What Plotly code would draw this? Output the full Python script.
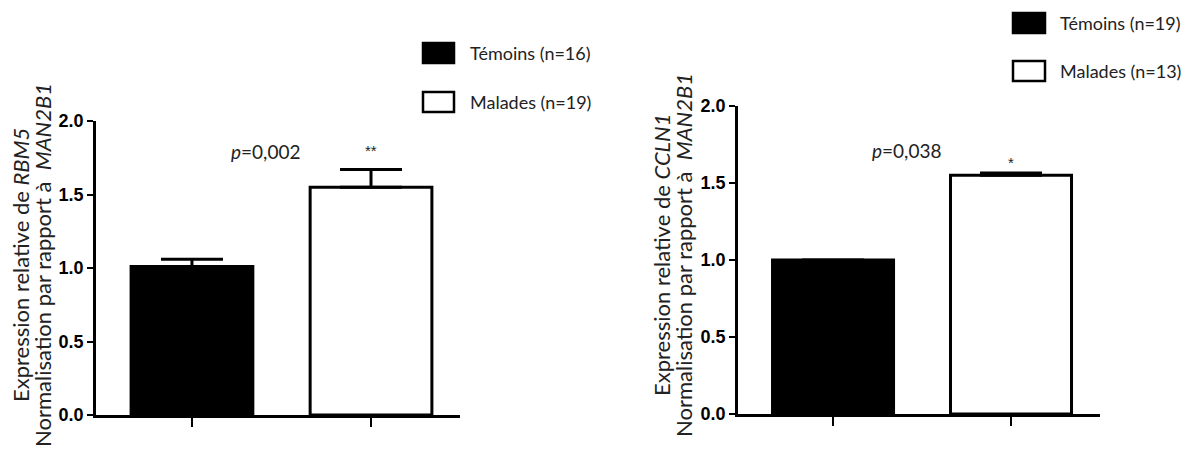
import plotly.graph_objects as go

# page body adds an 8px margin, so the figure is 8px smaller than the window
OFF = 8
W, H = 1195 - OFF, 449 - OFF

# data
groups = ["Témoins", "Malades"]
bar_colors = ["black", "white"]

rbm5_mean = [1.01, 1.55]
rbm5_sem = [0.05, 0.12]
rbm5_n = [16, 19]
rbm5_p = "0,002"
rbm5_stars = "**"

ccln1_mean = [1.0, 1.55]
ccln1_sem = [0.0, 0.015]
ccln1_n = [19, 13]
ccln1_p = "0,038"
ccln1_stars = "*"

y_ticks = [0, 0.5, 1.0, 1.5, 2.0]

TXT = "Lato"
NUM = "Liberation Sans"


def px(x):
    return (x - OFF) / W


def py(y):
    return 1 - (y - OFF) / H


fig = go.Figure()

panels = [
    ("x", "y", rbm5_mean, rbm5_sem),
    ("x2", "y2", ccln1_mean, ccln1_sem),
]
for xa, ya, means, sems in panels:
    fig.add_trace(go.Bar(
        x=[0, 1], y=means, width=0.68,
        marker=dict(color=bar_colors, line=dict(color="black", width=3)),
        error_y=dict(type="data", array=sems, arrayminus=[0, 0], symmetric=False,
                     color="black", thickness=3, width=31),
        xaxis=xa, yaxis=ya, showlegend=False,
    ))

xcommon = dict(showline=True, linecolor="black", linewidth=2.5, tickvals=[0, 1],
               showticklabels=False, ticks="outside", ticklen=9, tickwidth=2,
               tickcolor="black", showgrid=False, zeroline=False, automargin=False)
ycommon = dict(showline=True, linecolor="black", linewidth=2.5, range=[0, 2.0],
               tickvals=y_ticks, tickformat=".1f", ticks="outside", ticklen=6,
               tickwidth=2, tickcolor="black", showgrid=False, zeroline=False,
               automargin=False,
               tickfont=dict(family=NUM, size=18, color="black", weight="bold"))

fig.update_layout(
    width=W, height=H, margin=dict(l=0, r=0, t=0, b=0, pad=0, autoexpand=False),
    paper_bgcolor="white", plot_bgcolor="white", showlegend=False,
    xaxis=dict(domain=[px(96), px(460)], range=[-0.536, 1.497], anchor="y", **xcommon),
    yaxis=dict(domain=[py(415), py(121)], anchor="x", **ycommon),
    xaxis2=dict(domain=[px(738), px(1100)], range=[-0.534, 1.5], anchor="y2", **xcommon),
    yaxis2=dict(domain=[py(414), py(106)], anchor="x2", **ycommon),
)

# y-axis titles
titles = [
    ("RBM5", 20, 42, py(265)),
    ("CCLN1", 661, 683, py(255)),
]
for gene, x1, x2, yc in titles:
    fig.add_annotation(text="Expression relative de <i>%s</i>" % gene, xref="paper", yref="paper",
                       x=px(x1), y=yc, xanchor="center", yanchor="middle", textangle=-90,
                       showarrow=False, font=dict(family=TXT, size=22, color="#222"))
    fig.add_annotation(text="Normalisation par rapport à  <i>MAN2B1</i>", xref="paper", yref="paper",
                       x=px(x2), y=yc, xanchor="center", yanchor="middle", textangle=-90,
                       showarrow=False, font=dict(family=TXT, size=22, color="#222"))

# p-values and stars
stats = [("x", "y", rbm5_p, rbm5_stars, 1.79, 1.80), ("x2", "y2", ccln1_p, ccln1_stars, 1.71, 1.63)]
for xa, ya, p, stars, yp, ys in stats:
    fig.add_annotation(text="<i>p</i>=%s" % p, xref=xa, yref=ya, x=0.41, y=yp,
                       xanchor="center", yanchor="middle",
                       showarrow=False, font=dict(family=TXT, size=19, color="#222"))
    fig.add_annotation(text=stars, xref=xa, yref=ya, x=1, y=ys,
                       xanchor="center", yanchor="middle",
                       showarrow=False, font=dict(family=NUM, size=15, color="#222"))

# legends
legends = [
    (rbm5_n, 423, 454, 468, [53, 102]),
    (ccln1_n, 1013, 1045, 1058, [23, 71]),
]
for ns, x0, x1, xt, ycs in legends:
    for g, col, n, yc in zip(groups, bar_colors, ns, ycs):
        fig.add_shape(type="rect", xref="paper", yref="paper",
                      x0=px(x0), x1=px(x1), y0=py(yc - 10), y1=py(yc + 10),
                      fillcolor=col, line=dict(color="black", width=2.5))
        fig.add_annotation(text="%s (n=%d)" % (g, n), xref="paper", yref="paper",
                           x=px(xt), y=py(yc), xanchor="left", yanchor="middle",
                           showarrow=False, font=dict(family=TXT, size=18, color="#222"))

fig.write_html("out.html")
